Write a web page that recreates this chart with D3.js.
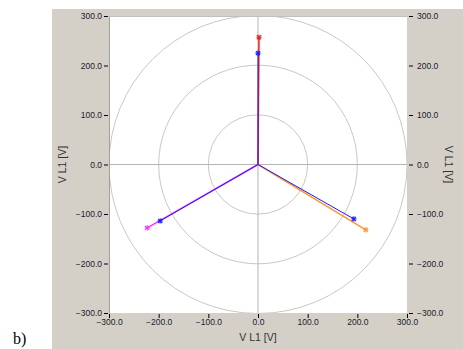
<!DOCTYPE html>
<html>
<head>
<meta charset="utf-8">
<script src="https://cdn.jsdelivr.net/npm/d3@7"></script>
<style>
  html, body { margin: 0; padding: 0; background: #fff; }
  svg { display: block; }
</style>
</head>
<body>
<svg id="chart" width="463" height="349"></svg>
<script>
// Axis ticks (volts)
const tickValues = [-300, -200, -100, 0, 100, 200, 300];
const ringRadii = [100, 200, 300];
const axisTitle = "V L1 [V]";

// Phasor tips [x, y] in volts
const refNames = ["L1", "L2", "L3"];
const refColors = ["#ff1a1a", "#ff33ff", "#ff9933"];
const refTips = [[2, 257], [-223, -128], [217, -132]];
const measTips = [[0, 225], [-197, -114], [193, -110]];
const measColor = "#1a1aff";

const svg = d3.select("#chart");
const W = 463, H = 349;
const panel = { x: 52, y: 9 };
const plot = { left: 109, top: 16, right: 407, bottom: 313 };

// Gray instrument panel
svg.append("rect").attr("x", panel.x).attr("y", panel.y)
  .attr("width", W - panel.x).attr("height", H - panel.y)
  .attr("fill", "#d4d0c8");

const x = d3.scaleLinear().domain([-300, 300]).range([plot.left, plot.right]);
const y = d3.scaleLinear().domain([-300, 300]).range([plot.bottom, plot.top]);

// Plot area
svg.append("rect").attr("x", plot.left).attr("y", plot.top)
  .attr("width", plot.right - plot.left).attr("height", plot.bottom - plot.top)
  .attr("fill", "#fff");

svg.append("clipPath").attr("id", "clip").append("rect")
  .attr("x", plot.left).attr("y", plot.top)
  .attr("width", plot.right - plot.left).attr("height", plot.bottom - plot.top);

const g = svg.append("g").attr("clip-path", "url(#clip)");

// Rings
g.selectAll("circle.ring").data(ringRadii).join("circle")
  .attr("class", "ring")
  .attr("cx", x(0)).attr("cy", y(0))
  .attr("r", d => x(d) - x(0))
  .attr("fill", "none").attr("stroke", "#c8c8c8").attr("stroke-width", 1);

// Crosshair
g.append("line").attr("x1", plot.left).attr("x2", plot.right)
  .attr("y1", y(0)).attr("y2", y(0)).attr("stroke", "#b4b4b4");
g.append("line").attr("x1", x(0)).attr("x2", x(0))
  .attr("y1", plot.top).attr("y2", plot.bottom).attr("stroke", "#b4b4b4");

// Asterisk marker
function star(sel, px, py, color) {
  const s = 2.6;
  const m = sel.append("g").attr("transform", `translate(${px},${py})`)
    .attr("stroke", color).attr("stroke-width", 1.1);
  [[-s, 0, s, 0], [0, -s, 0, s], [-s * 0.8, -s * 0.8, s * 0.8, s * 0.8], [-s * 0.8, s * 0.8, s * 0.8, -s * 0.8]]
    .forEach(l => m.append("line").attr("x1", l[0]).attr("y1", l[1]).attr("x2", l[2]).attr("y2", l[3]));
}

// Reference phasors
refTips.forEach((t, i) => {
  g.append("line").attr("x1", x(0)).attr("y1", y(0))
    .attr("x2", x(t[0])).attr("y2", y(t[1]))
    .attr("stroke", refColors[i]).attr("stroke-width", 1.5);
  star(g, x(t[0]), y(t[1]), refColors[i]);
});

// Measured phasors
measTips.forEach(t => {
  g.append("line").attr("x1", x(0)).attr("y1", y(0))
    .attr("x2", x(t[0])).attr("y2", y(t[1]))
    .attr("stroke", measColor).attr("stroke-width", 1);
  star(g, x(t[0]), y(t[1]), measColor);
});

// Plot frame
svg.append("line").attr("x1", plot.left + 0.5).attr("x2", plot.left + 0.5)
  .attr("y1", plot.top).attr("y2", plot.bottom).attr("stroke", "#a0a0a0");
svg.append("line").attr("x1", plot.left).attr("x2", plot.right)
  .attr("y1", plot.top + 0.5).attr("y2", plot.top + 0.5).attr("stroke", "#c0c0c0");

const fmt = d3.format(".1f");
const font = "Liberation Sans, Arial, sans-serif";

function styleAxis(a) {
  a.select(".domain").remove();
  a.selectAll(".tick line").attr("stroke", "#000");
  a.selectAll(".tick text").attr("fill", "#1a1a2a")
    .attr("font-family", font).attr("font-size", 8.5);
}

svg.append("g").attr("transform", `translate(${plot.left - 1},0)`)
  .call(d3.axisLeft(y).tickValues(tickValues).tickFormat(fmt).tickSize(4).tickPadding(2))
  .call(styleAxis);

svg.append("g").attr("transform", `translate(${plot.right + 2},0)`)
  .call(d3.axisRight(y).tickValues(tickValues).tickFormat(fmt).tickSize(4).tickPadding(4))
  .call(styleAxis);

svg.append("g").attr("transform", `translate(0,${plot.bottom + 1})`)
  .call(d3.axisBottom(x).tickValues(tickValues).tickFormat(fmt).tickSize(4).tickPadding(1))
  .call(styleAxis);

// Axis titles
svg.append("text").attr("transform", `translate(66,${y(0)}) rotate(-90)`)
  .attr("text-anchor", "middle").attr("font-family", font).attr("font-size", 10.5)
  .attr("fill", "#333").text(axisTitle);
svg.append("text").attr("transform", `translate(445,${y(0)}) rotate(90)`)
  .attr("text-anchor", "middle").attr("font-family", font).attr("font-size", 10.5)
  .attr("fill", "#333").text(axisTitle);
svg.append("text").attr("x", x(0)).attr("y", 341)
  .attr("text-anchor", "middle").attr("font-family", font).attr("font-size", 10.5)
  .attr("fill", "#333").text(axisTitle);

// Panel caption
svg.append("text").attr("x", 13).attr("y", 344)
  .attr("font-family", "Liberation Serif, Times New Roman, serif").attr("font-size", 16)
  .attr("fill", "#000").text("b)");
</script>
</body>
</html>
